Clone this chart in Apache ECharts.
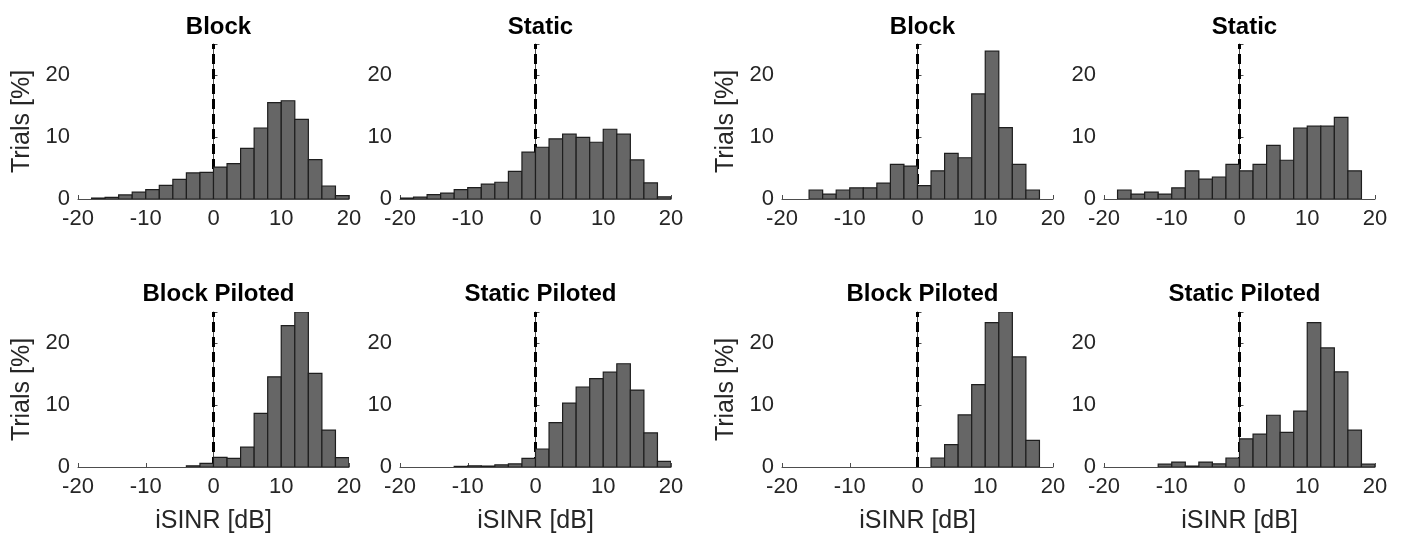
<!DOCTYPE html>
<html>
<head>
<meta charset="utf-8">
<script src="https://cdn.jsdelivr.net/npm/echarts@6/dist/echarts.min.js"></script>
<style>
html,body{margin:0;padding:0;background:#fff;}
#chart{width:1406px;height:538px;}
</style>
</head>
<body>
<div id="chart"></div>
<script>
// Histogram bin edges (dB)
const binEdges = [-20,-18,-16,-14,-12,-10,-8,-6,-4,-2,0,2,4,6,8,10,12,14,16,18,20];
const xTicks = [-20,-10,0,10,20];
const yTicks = [0,10,20];

const titles = ['Block','Static','Block','Static','Block Piloted','Static Piloted','Block Piloted','Static Piloted'];

// Trials [%] per bin (20 bins)
const blockA = [0,0.15,0.25,0.65,1.1,1.5,2.2,3.15,4.2,4.3,5.15,5.7,8.15,11.45,15.55,15.85,12.85,6.35,2.1,0.55];
const staticA = [0.15,0.3,0.7,0.95,1.5,1.85,2.4,2.7,4.45,7.55,8.35,9.7,10.45,9.95,9.15,11.25,10.45,6.3,2.6,0.35];
const blockB = [0,0,1.45,0.8,1.45,1.8,1.8,2.55,5.6,5.3,2.15,4.55,7.35,6.65,16.95,23.85,11.5,5.6,1.45,0];
const staticB = [0,1.45,0.8,1.1,0.8,1.8,4.55,3.2,3.55,5.6,4.55,5.6,8.65,6.25,11.45,11.75,11.75,13.15,4.55,0];
const blockPilotedA = [0,0,0,0,0,0,0,0,0.2,0.6,1.55,1.4,3.2,8.65,14.55,22.8,25.4,15.1,5.95,1.5];
const staticPilotedA = [0,0,0,0,0.1,0.2,0.15,0.35,0.5,1.4,2.9,7.15,10.3,12.9,14.25,15.3,16.65,12.4,5.5,0.9];
const blockPilotedB = [0,0,0,0,0,0,0,0,0,0,0,1.45,3.6,8.4,13.3,23.3,25.4,17.75,4.3,0];
const staticPilotedB = [0,0,0,0,0.45,0.8,0.15,0.8,0.5,1.45,4.55,5.3,8.35,5.6,9.0,23.3,19.2,15.35,5.95,0.45];

const panels = [blockA, staticA, blockB, staticB, blockPilotedA, staticPilotedA, blockPilotedB, staticPilotedB];

const FONT = '"Liberation Sans", Arial, Helvetica, sans-serif';
const lefts = [78, 400, 782, 1104];
const tops = [44, 312];
const W = 271, H = 155;

const grid = [], xAxis = [], yAxis = [], series = [], title = [];
panels.forEach((vals, i) => {
  const col = i % 4, row = Math.floor(i / 4);
  grid.push({left: lefts[col], top: tops[row], width: W, height: H});
  title.push({
    text: titles[i],
    left: lefts[col] + W / 2,
    top: row === 0 ? 10 : 277,
    textAlign: 'center',
    textStyle: {fontFamily: FONT, fontSize: 24, fontWeight: 'bold', color: '#000'}
  });
  const axLine = {show: true, lineStyle: {color: '#4d4d4d', width: 1}};
  xAxis.push({
    type: 'value', gridIndex: i, min: -20, max: 20, interval: 10,
    axisLine: axLine,
    axisTick: {show: true, inside: true, length: 4, lineStyle: {color: '#4d4d4d'}},
    axisLabel: {fontFamily: FONT, fontSize: 22, color: '#262626', margin: 9,
      formatter: v => xTicks.includes(v) ? String(v) : ''},
    splitLine: {show: false},
    name: row === 1 ? 'iSINR [dB]' : '',
    nameLocation: 'middle', nameGap: 42,
    nameTextStyle: {fontFamily: FONT, fontSize: 25, color: '#262626'}
  });
  yAxis.push({
    type: 'value', gridIndex: i, min: 0, max: 25, interval: 10,
    axisLine: axLine,
    axisTick: {show: true, inside: true, length: 4, lineStyle: {color: '#4d4d4d'}},
    axisLabel: {fontFamily: FONT, fontSize: 22, color: '#262626', margin: 8,
      formatter: v => yTicks.includes(v) ? String(v) : ''},
    splitLine: {show: false},
    name: col % 2 === 0 ? 'Trials [%]' : '',
    nameLocation: 'middle', nameGap: 43, nameRotate: 90,
    nameTextStyle: {fontFamily: FONT, fontSize: 25, color: '#262626'}
  });
  series.push({
    type: 'line', xAxisIndex: i, yAxisIndex: i, z: 1,
    data: [[0, 0], [0, 25]], symbol: 'none', silent: true,
    lineStyle: {color: '#000', width: 3, type: [10, 5]}
  });
  const data = vals.map((v, k) => [binEdges[k], binEdges[k + 1], v]);
  series.push({
    type: 'custom', xAxisIndex: i, yAxisIndex: i, z: 2, clip: true,
    data: data,
    renderItem: (params, api) => {
      const v = api.value(2);
      if (v <= 0) return null;
      const p0 = api.coord([api.value(0), 0]);
      const p1 = api.coord([api.value(1), Math.min(v, 25)]);
      return {
        type: 'rect',
        shape: {x: p0[0], y: p1[1], width: p1[0] - p0[0], height: p0[1] - p1[1]},
        style: {fill: '#666666', stroke: '#1e1e1e', lineWidth: 1.2}
      };
    }
  });
});

const chart = echarts.init(document.getElementById('chart'), null, {renderer: 'canvas'});
chart.setOption({animation: false, backgroundColor: '#fff', title, grid, xAxis, yAxis, series});
</script>
</body>
</html>
